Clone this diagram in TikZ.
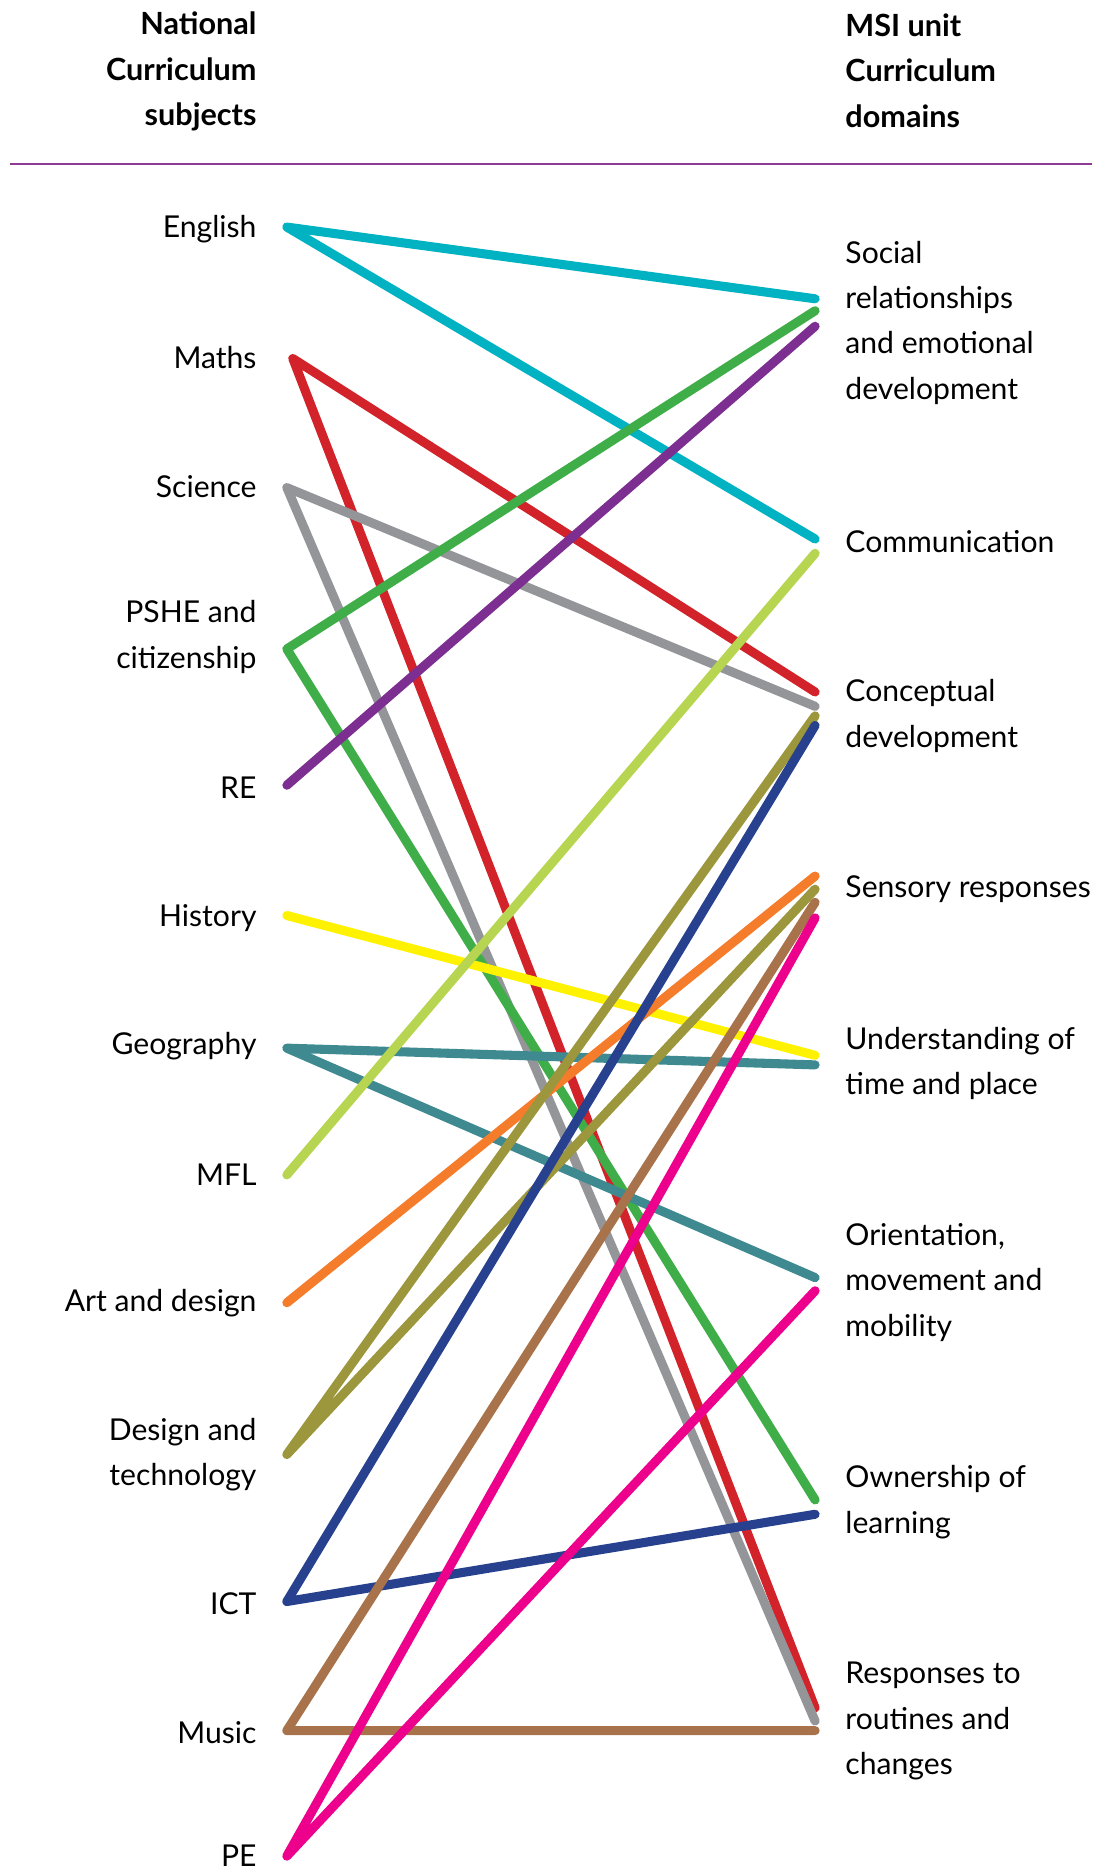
\documentclass[tikz,border=0pt]{standalone}
\usepackage{fontspec}
\setmainfont{Lato}
\usetikzlibrary{positioning}

\definecolor{engcol}{HTML}{00B2C2}
\definecolor{matcol}{HTML}{D2232A}
\definecolor{scicol}{HTML}{939598}
\definecolor{pshecol}{HTML}{3FAE49}
\definecolor{recol}{HTML}{7D2E91}
\definecolor{hiscol}{HTML}{FFF200}
\definecolor{geocol}{HTML}{3E8A90}
\definecolor{mflcol}{HTML}{B7D550}
\definecolor{artcol}{HTML}{F47C2A}
\definecolor{dtcol}{HTML}{9C963C}
\definecolor{ictcol}{HTML}{27418F}
\definecolor{muscol}{HTML}{A8734A}
\definecolor{pecol}{HTML}{EC008C}
\definecolor{rulecol}{HTML}{8E3A96}

\begin{document}
\begin{tikzpicture}[x=0.5pt,y=-0.5pt,
    subj/.style={anchor=east,align=right,inner sep=0pt,font=\fontsize{12.6}{19}\selectfont},
    dom/.style={anchor=west,align=left,inner sep=0pt,font=\fontsize{12.6}{19}\selectfont},
    head/.style={inner sep=0pt,font=\fontsize{12.8}{19}\selectfont\bfseries},
    link/.style={line width=3.8pt,line cap=round,line join=round}]
    \useasboundingbox (0,0) rectangle (927,1568);

    % column headings
    \node[head,anchor=east,align=right] (lhead) at (215,60) {National\\Curriculum\\subjects};
    \node[head,anchor=west,align=left] (rhead) at (707,59) {MSI unit\\Curriculum\\domains};
    \draw[rulecol,line width=1pt] (8,137) -- (914,137);

    % subjects
    \node[subj] (eng) at (215,192) {English};
    \node[subj] (mat) at (215,299) {Maths};
    \node[subj] (sci) at (215,407) {Science};
    \node[subj] (pshe) at (215,533) {PSHE and\\citizenship};
    \node[subj] (re) at (215,659) {RE};
    \node[subj] (his) at (215,768) {History};
    \node[subj] (geo) at (215,875) {Geography};
    \node[subj] (mfl) at (215,983) {MFL};
    \node[subj] (art) at (215,1090) {Art and design};
    \node[subj] (dt) at (215,1217) {Design and\\technology};
    \node[subj] (ict) at (215,1342) {ICT};
    \node[subj] (mus) at (215,1450) {Music};
    \node[subj] (pe) at (215,1553) {PE};

    % domains
    \node[dom] (soc) at (707,270) {Social\\relationships\\and emotional\\development};
    \node[dom] (com) at (707,453) {Communication};
    \node[dom] (con) at (707,599) {Conceptual\\development};
    \node[dom] (sen) at (707,744) {Sensory responses};
    \node[dom] (und) at (707,890) {Understanding of\\time and place};
    \node[dom] (ori) at (707,1073) {Orientation,\\movement and\\mobility};
    \node[dom] (own) at (707,1257) {Ownership of\\learning};
    \node[dom] (res) at (707,1440) {Responses to\\routines and\\changes};

    % line ends beside the subjects
    \coordinate (eng-p) at (240,190);
    \coordinate (mat-p) at (245,300);
    \coordinate (sci-p) at (240,408);
    \coordinate (pshe-p) at (240,543);
    \coordinate (re-p) at (240,657);
    \coordinate (his-p) at (240,766);
    \coordinate (geo-p) at (240,877);
    \coordinate (mfl-p) at (240,983);
    \coordinate (art-p) at (240,1090);
    \coordinate (dt-p) at (240,1217);
    \coordinate (ict-p) at (240,1340);
    \coordinate (mus-p) at (240,1448);
    \coordinate (pe-p) at (240,1553);

    % line ends beside the domains
    \coordinate (soc-1) at (682,250);
    \coordinate (soc-2) at (682,260);
    \coordinate (soc-3) at (682,273);
    \coordinate (com-1) at (682,451);
    \coordinate (com-2) at (682,463);
    \coordinate (con-1) at (682,579);
    \coordinate (con-2) at (682,591);
    \coordinate (con-3) at (682,599);
    \coordinate (con-4) at (682,607);
    \coordinate (sen-1) at (682,733);
    \coordinate (sen-2) at (682,744);
    \coordinate (sen-3) at (682,755);
    \coordinate (sen-4) at (682,768);
    \coordinate (und-1) at (682,883);
    \coordinate (und-2) at (682,891);
    \coordinate (ori-1) at (682,1069);
    \coordinate (ori-2) at (682,1080);
    \coordinate (own-1) at (682,1255);
    \coordinate (own-2) at (682,1267);
    \coordinate (res-1) at (682,1429);
    \coordinate (res-2) at (682,1440);
    \coordinate (res-3) at (682,1448);

    % links, one colour per subject
    \draw[link,engcol] (soc-1) -- (eng-p) -- (com-1);
    \draw[link,matcol] (con-1) -- (mat-p) -- (res-1);
    \draw[link,scicol] (con-2) -- (sci-p) -- (res-2);
    \draw[link,pshecol] (soc-2) -- (pshe-p) -- (own-1);
    \draw[link,recol] (re-p) -- (soc-3);
    \draw[link,hiscol] (his-p) -- (und-1);
    \draw[link,geocol] (und-2) -- (geo-p) -- (ori-1);
    \draw[link,mflcol] (mfl-p) -- (com-2);
    \draw[link,artcol] (art-p) -- (sen-1);
    \draw[link,dtcol] (con-3) -- (dt-p) -- (sen-2);
    \draw[link,ictcol] (con-4) -- (ict-p) -- (own-2);
    \draw[link,muscol] (sen-3) -- (mus-p) -- (res-3);
    \draw[link,pecol] (sen-4) -- (pe-p) -- (ori-2);
\end{tikzpicture}
\end{document}
